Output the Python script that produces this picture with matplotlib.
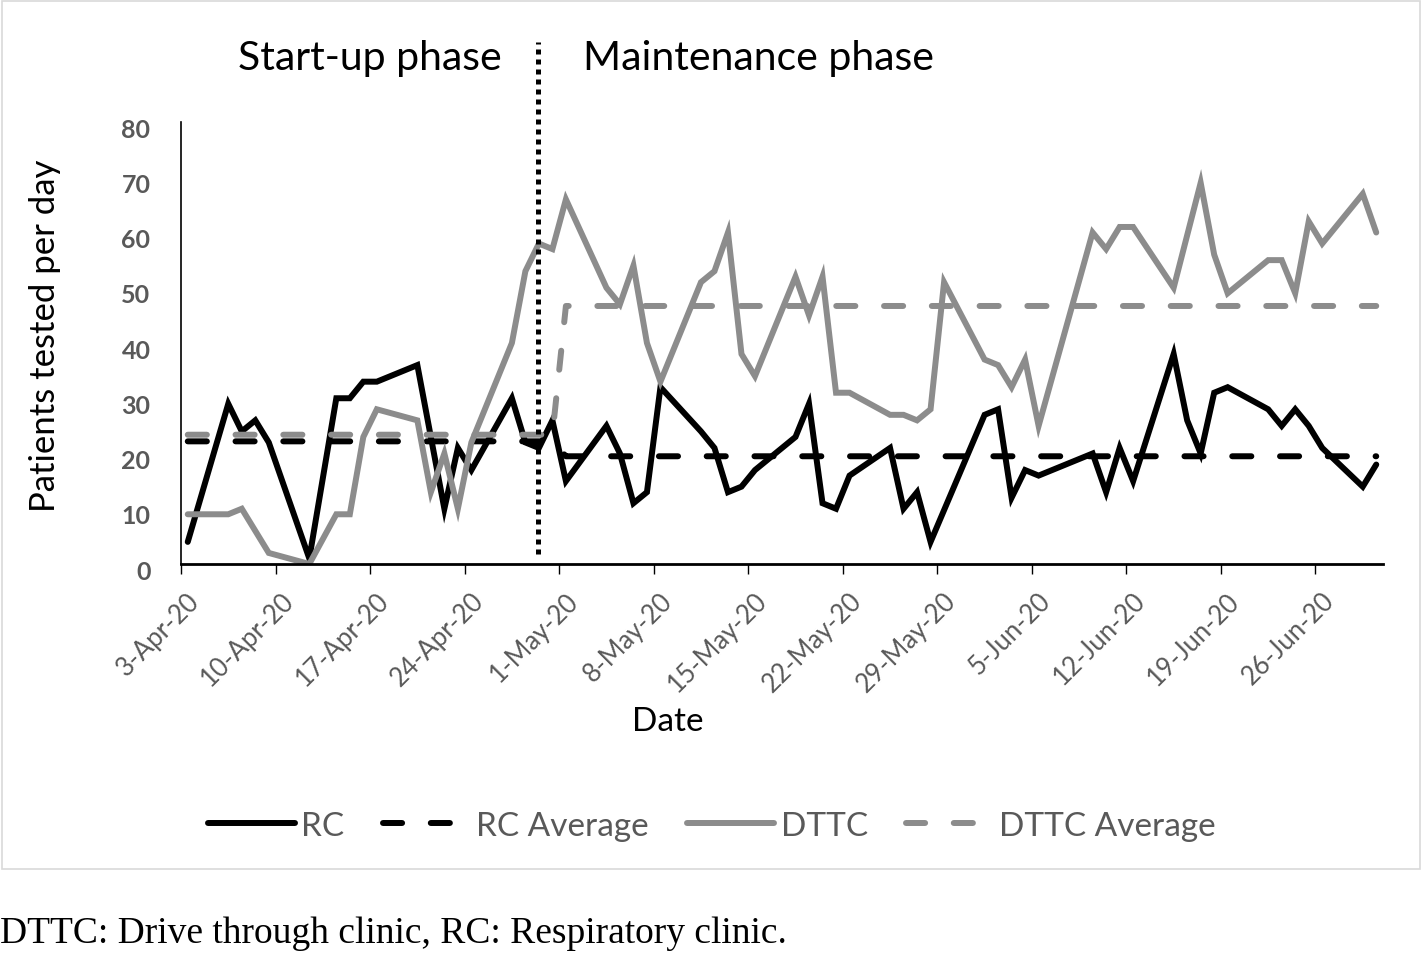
import matplotlib.pyplot as plt
import matplotlib.transforms as mtransforms
from matplotlib.patches import Rectangle
import numpy as np

plt.rcParams['font.family'] = ['Lato', 'DejaVu Sans']

# days counted from 3-Apr-20 (only days with data)
rc_days = [0, 3, 4, 5, 6, 9, 11, 12, 13, 14, 17, 19, 20, 21, 24, 25, 26, 27, 28,
           31, 32, 33, 34, 35, 38, 39, 40, 41, 42, 45, 46, 47, 48, 49, 52, 53, 54, 55,
           59, 60, 61, 62, 63, 67, 68, 69, 70, 73, 74, 75, 76, 77, 80, 81, 82, 83, 84, 87, 88]
rc_vals = [4, 29, 24, 26, 22, 1, 30, 30, 33, 33, 36, 10, 21, 17, 30, 22, 21, 26, 15,
           25, 20, 11, 13, 32, 24, 21, 13, 14, 17, 23, 29, 11, 10, 16, 21, 10, 13, 4,
           27, 28, 12, 17, 16, 20, 13, 21, 15, 38, 26, 20, 31, 32, 28, 25, 28, 25, 21, 14, 18]

dt_days = [0, 3, 4, 6, 9, 11, 12, 13, 14, 17, 18, 19, 20, 21, 24, 25, 26, 27, 28,
           31, 32, 33, 34, 35, 38, 39, 40, 41, 42, 45, 46, 47, 48, 49, 52, 53, 54, 55, 56,
           59, 60, 61, 62, 63, 67, 68, 69, 70, 73, 75, 76, 77, 80, 81, 82, 83, 84, 87, 88]
dt_vals = [9, 9, 10, 2, 0, 9, 9, 23, 28, 26, 13, 20, 10, 22, 40, 53, 58, 57, 66,
           50, 47, 54, 40, 33, 51, 53, 60, 38, 34, 52, 45, 52, 31, 31, 27, 27, 26, 28, 51,
           37, 36, 32, 37, 25, 60, 57, 61, 61, 50, 69, 56, 49, 55, 55, 49, 62, 58, 67, 60]

# phase averages: start-up (3-Apr to 30-Apr), maintenance (1-May to 30-Jun)
avg_days = [0, 27, 28, 88]
rc_avg = [22.2, 22.2, 19.5, 19.5]
dt_avg = [23.4, 23.4, 46.7, 46.7]

phase_split = 26.45
tick_days = list(range(0, 85, 7))
tick_labels = ['3-Apr-20', '10-Apr-20', '17-Apr-20', '24-Apr-20', '1-May-20', '8-May-20',
               '15-May-20', '22-May-20', '29-May-20', '5-Jun-20', '12-Jun-20', '19-Jun-20',
               '26-Jun-20']

black = '#000000'
grey = '#8c8c8c'
label_grey = '#595959'

fig = plt.figure(figsize=(14.24, 9.54), dpi=100)
fig.patches.append(Rectangle((2 / 1424, 1 - 870 / 954), 1418 / 1424, 868 / 954,
                             transform=fig.transFigure, fill=False,
                             edgecolor='#d9d9d9', linewidth=1.2))

ax = fig.add_axes([181 / 1424, 1 - 565 / 954, (1383 - 181) / 1424, (565 - 123) / 954])

# points sit in the middle of each day (date axis, between tick marks)
ax.plot(np.array(rc_days) + 0.5, rc_vals, color=black, lw=4.3, label='RC',
        solid_joinstyle='miter', solid_capstyle='round')
ax.plot(np.array(avg_days) + 0.5, rc_avg, color=black, lw=4.3, label='RC Average',
        dashes=(3.2, 4.8), dash_capstyle='round')
ax.plot(np.array(dt_days) + 0.5, dt_vals, color=grey, lw=4.3, label='DTTC',
        solid_joinstyle='miter', solid_capstyle='round')
ax.plot(np.array(avg_days) + 0.5, dt_avg, color=grey, lw=4.3, label='DTTC Average',
        dashes=(3.2, 4.8), dash_capstyle='round')

ax.plot([phase_split, phase_split], [1.8, 94.5], color=black, lw=3.6,
        linestyle=(0, (1, 1)), clip_on=False)

ax.set_xlim(0, 89)
ax.set_ylim(0, 80)
ax.set_yticks(np.arange(0, 81, 10))
ax.set_xticks(tick_days)
ax.set_xticklabels(tick_labels, rotation=45, ha='right', va='center', rotation_mode='anchor')
ax.tick_params(axis='y', length=0, pad=22, labelsize=18, labelcolor=label_grey)
ax.tick_params(axis='x', length=7, width=1, pad=4, labelsize=18.5, labelcolor=label_grey)
ydown = mtransforms.ScaledTranslation(0, -5 / 100, fig.dpi_scale_trans)
for lab in ax.get_yticklabels():
    lab.set_fontweight('bold')
    lab.set_transform(lab.get_transform() + ydown)
offset = mtransforms.ScaledTranslation(15 / 100, -17 / 100, fig.dpi_scale_trans)
for lab in ax.get_xticklabels():
    lab.set_transform(lab.get_transform() + offset)

for s in ['top', 'right']:
    ax.spines[s].set_visible(False)
ax.spines['left'].set_linewidth(1.2)
ax.spines['bottom'].set_linewidth(2)

fig.text(45 / 1424, 1 - 336 / 954, 'Patients tested per day', rotation=90,
         ha='center', va='center', fontsize=25)
fig.text(668 / 1424, 1 - 722 / 954, 'Date', ha='center', va='center', fontsize=24)

fig.text(370 / 1424, 1 - 70 / 954, 'Start-up phase', ha='center', va='baseline', fontsize=29.5)
fig.text(758 / 1424, 1 - 70 / 954, 'Maintenance phase', ha='center', va='baseline', fontsize=29.5)

fig.legend(loc='center', bbox_to_anchor=(0.5, 1 - 827 / 954), ncol=4, frameon=False,
           fontsize=24, labelcolor=label_grey, handlelength=2.6, handletextpad=0.2,
           columnspacing=1.15)

fig.text(0, 1 - 934 / 954, 'DTTC: Drive through clinic, RC: Respiratory clinic.',
         ha='left', va='center', fontsize=27, family=['Liberation Serif'])

fig.savefig('out.png', dpi=100)
